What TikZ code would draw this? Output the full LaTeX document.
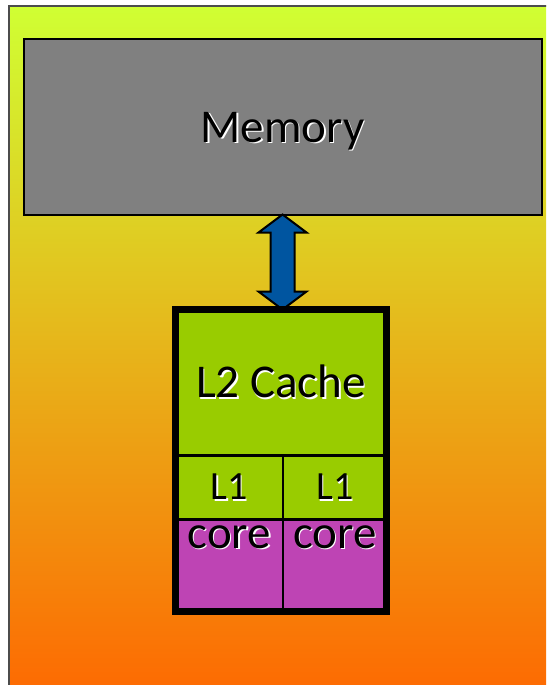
\documentclass[tikz,border=0pt]{standalone}
\usepackage{fontspec}
\setmainfont{Carlito}
\usetikzlibrary{fit,calc}
\definecolor{bgtop}{RGB}{208,255,51}
\definecolor{bgbot}{RGB}{255,100,0}
\definecolor{memgray}{RGB}{128,128,128}
\definecolor{cachegreen}{RGB}{153,204,0}
\definecolor{coremag}{RGB}{190,68,180}
\definecolor{busblue}{RGB}{0,85,160}
% text with a soft white drop shadow
\newcommand{\shtext}[1]{\leavevmode\rlap{\hspace{1.4pt}\raisebox{-1.4pt}{\color{white}#1}}#1}

\begin{document}
\begin{tikzpicture}[x=1pt,y=1pt,
  memstyle/.style={draw=black, line width=2pt, fill=memgray, inner sep=0pt, outer sep=0pt,
    font=\fontsize{47}{50}\selectfont, text depth=0pt},
  cell/.style={draw=black, line width=2.5pt, inner sep=0pt, outer sep=0pt, anchor=north west},
  l2cell/.style={cell, fill=cachegreen, font=\fontsize{47}{50}\selectfont},
  l1cell/.style={cell, fill=cachegreen, font=\fontsize{40}{44}\selectfont},
  corecell/.style={cell, fill=coremag, font=\fontsize{47}{50}\selectfont,
    text height=29pt, text depth=62.5pt},
  chipframe/.style={draw=black, line width=7pt, inner sep=0pt, outer sep=0pt},
  busarrow/.style={draw=black, line width=2pt, fill=busblue, line join=miter}]
\useasboundingbox (0,0) rectangle (546,-685);
\clip (0,0) rectangle (546,-685);

% slide background
\path[top color=bgtop, bottom color=bgbot, draw=black!70, line width=1.5pt]
  (9,-6) rectangle (600,-720);

% main memory
\node[memstyle, minimum width=518, minimum height=175] (mem) at (282.5,-127) {\shtext{Memory}};

% processor chip: shared L2, private L1s and cores
\node[l2cell, minimum width=211, minimum height=146] (l2) at (175.5,-309.5) {\shtext{L2 Cache}};
\node[l1cell, minimum width=107.5, minimum height=64] (l1a) at (l2.south west) {\shtext{L1}};
\node[l1cell, minimum width=103.5, minimum height=64] (l1b) at (l1a.north east) {\shtext{L1}};
\node[corecell, minimum width=107.5, minimum height=91.5] (c1) at (l1a.south west) {\shtext{core}};
\node[corecell, minimum width=103.5, minimum height=91.5] (c2) at (c1.north east) {\shtext{core}};

% bus between memory and the chip
\coordinate (top) at (mem.south);
\coordinate (bot) at (mem.south |- l2.north);
\draw[busarrow] (top) -- ++(24,-18) -- ++(-12,0) -- ($(bot)+(12,18)$) -- ++(12,0) -- (bot)
  -- ++(-24,18) -- ++(12,0) -- ($(top)+(-12,-18)$) -- ++(-12,0) -- cycle;

\node[chipframe, fit=(l2)(c2)] (chip) {};
\end{tikzpicture}
\end{document}
